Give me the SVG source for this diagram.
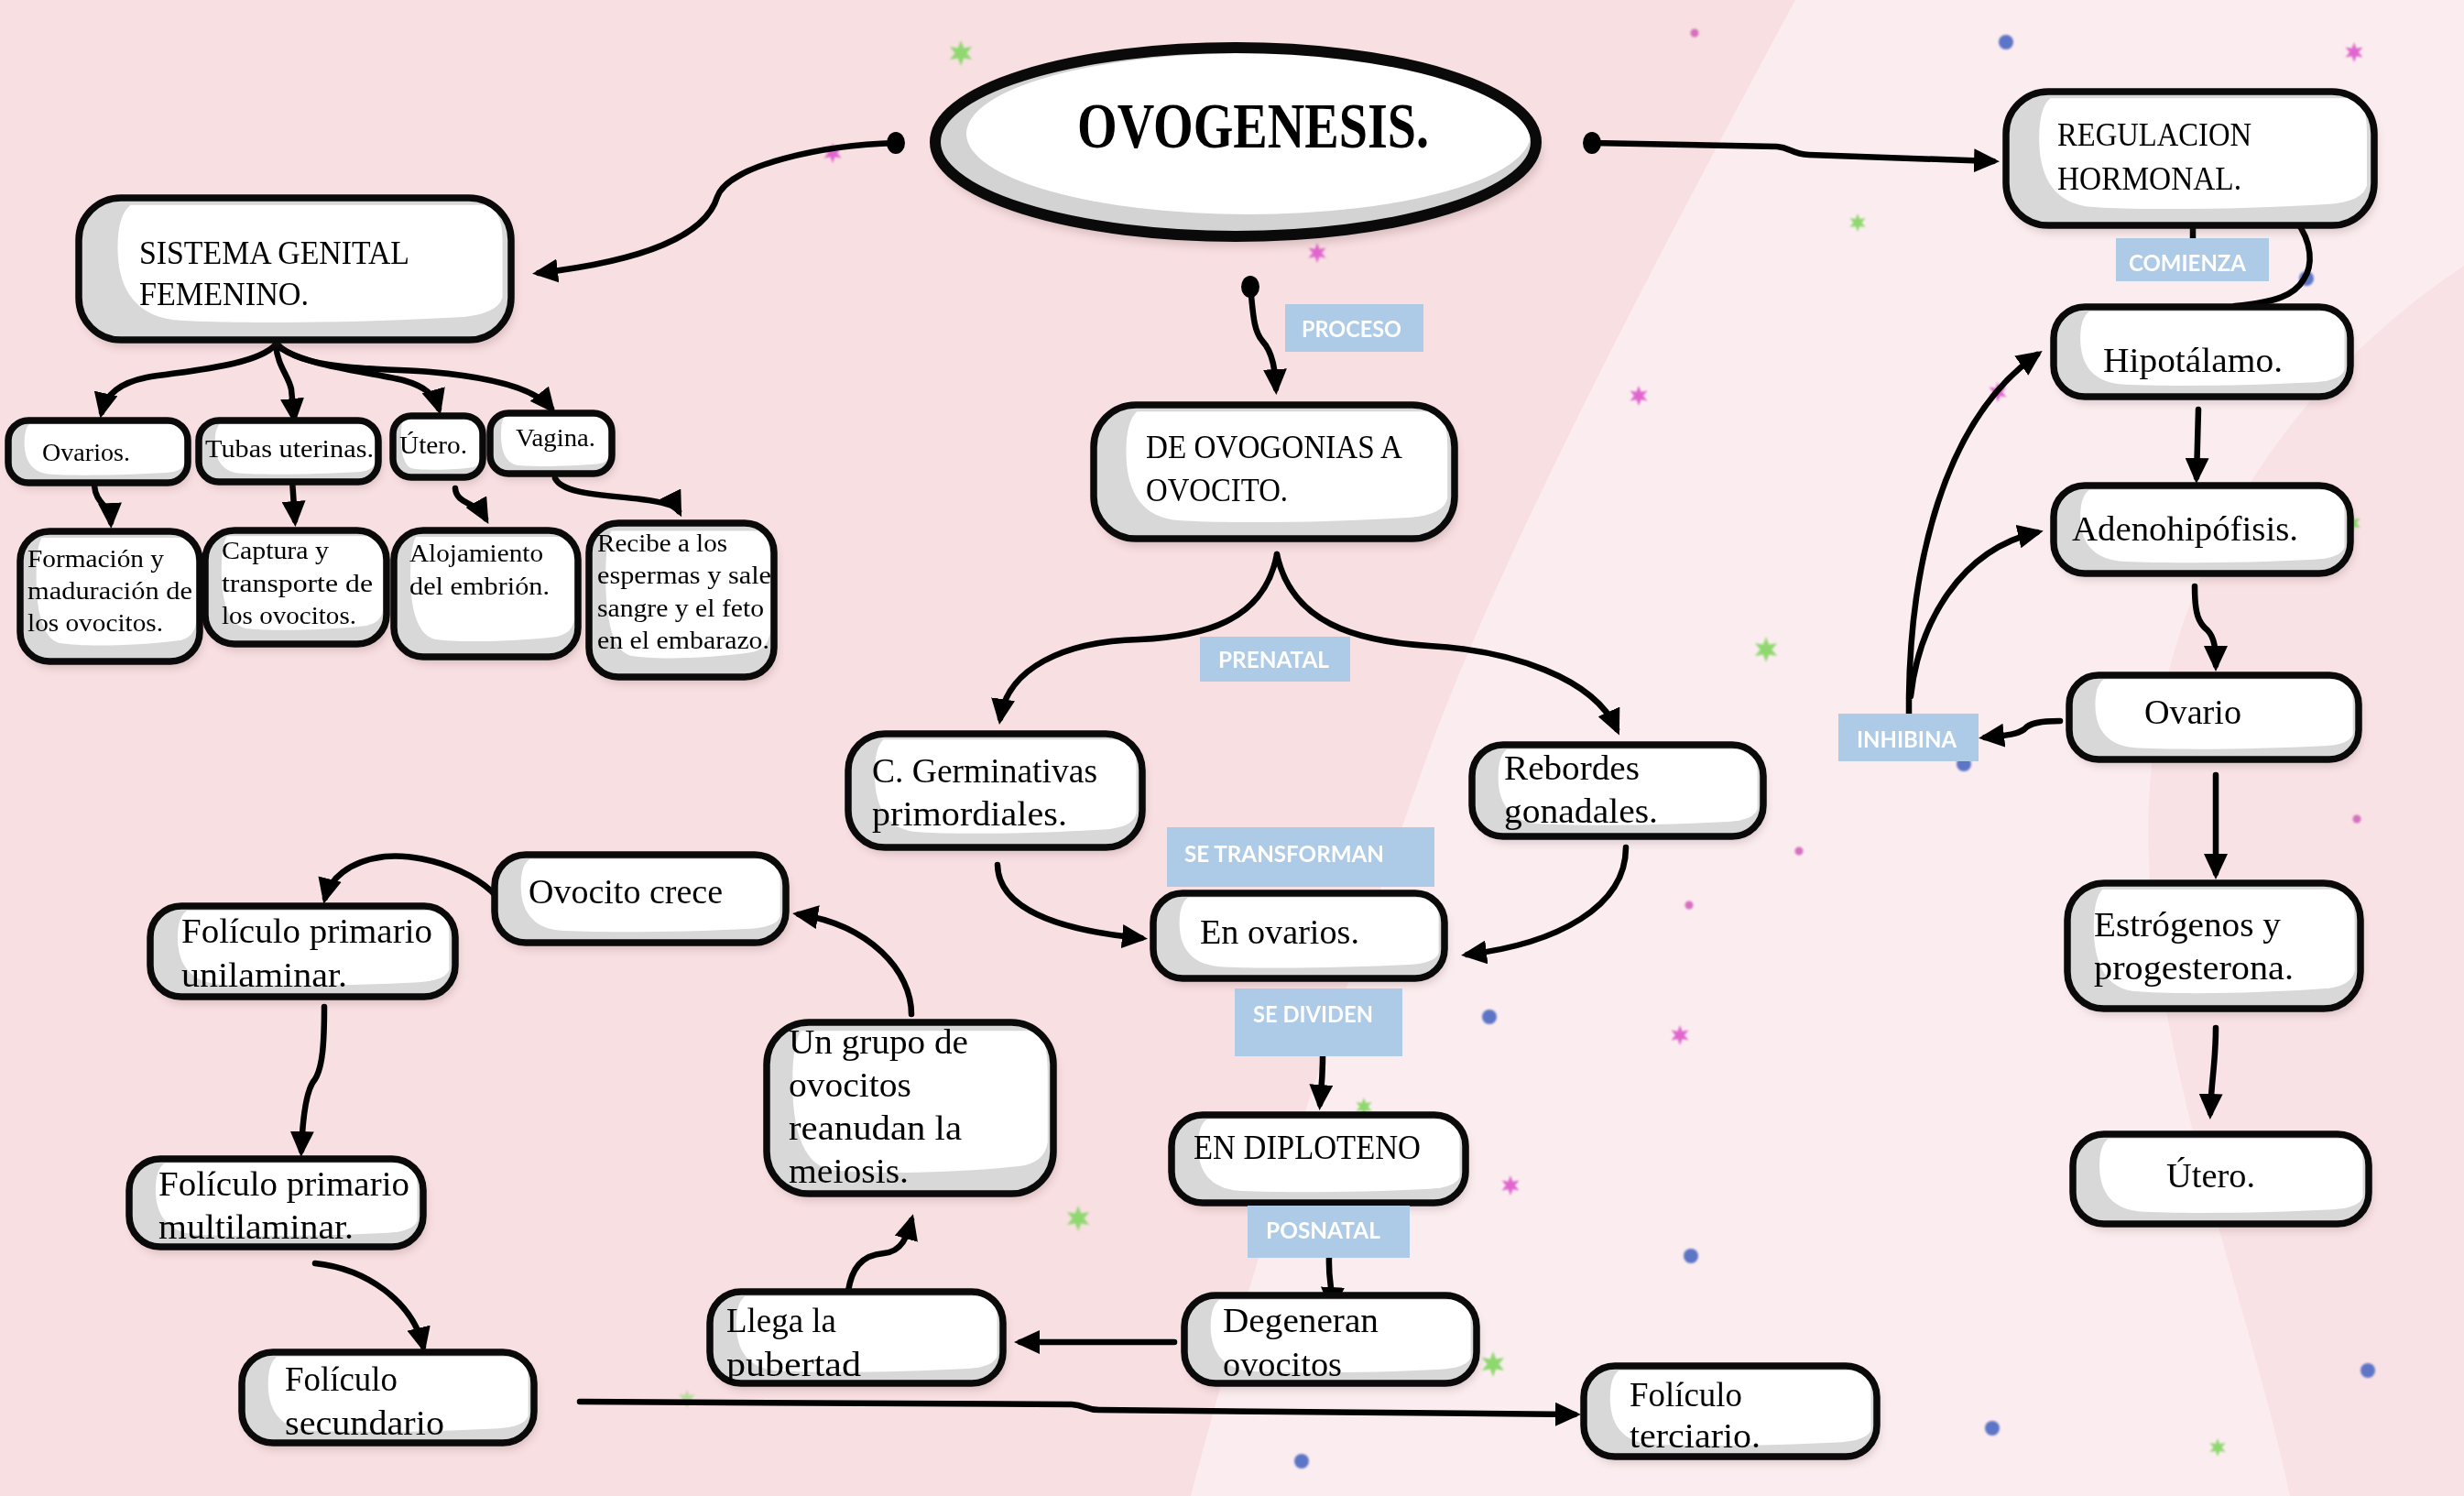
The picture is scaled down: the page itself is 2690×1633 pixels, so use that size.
<svg xmlns="http://www.w3.org/2000/svg" xmlns:xlink="http://www.w3.org/1999/xlink" width="2690" height="1633" viewBox="0 0 2690 1633">
<defs>
<style>
.base{fill:#d8d8d8}
.bd{fill:none;stroke:#0a0a0a;stroke-width:7.5}
.sh{fill:#6b4a4e;opacity:.22;filter:url(#blur)}
.t27{font-family:"Liberation Serif",serif;font-size:27px;fill:#000}
.t36{font-family:"Liberation Serif",serif;font-size:36px;fill:#000}
.t37{font-family:"Liberation Serif",serif;font-size:37px;fill:#000}
.lb rect{fill:#adcae6}
.lb text{font-family:Lato,"Open Sans",sans-serif;font-weight:700;font-size:24px;fill:#fff}
.cn path{fill:none;stroke:#000;stroke-width:6.5;stroke-linecap:round;stroke-linejoin:round}
.ar{marker-end:url(#ah)}
.gs{fill:#8fd870}
.ms{fill:#e066cf}
.bdot{fill:#5d74c6}
.pdot{fill:#d56fc0}
</style>
<filter id="blur" x="-10%" y="-20%" width="120%" height="150%"><feGaussianBlur stdDeviation="5"/></filter>
<filter id="soft" x="-50%" y="-50%" width="200%" height="200%"><feGaussianBlur stdDeviation="1.2"/></filter>
<marker id="ah" markerUnits="userSpaceOnUse" markerWidth="28" markerHeight="26" viewBox="0 0 28 26" refX="21" refY="13" orient="auto"><path d="M0,0 L28,13 L0,26 Z" fill="#000"/></marker>
<symbol id="hl" viewBox="0 0 100 100" preserveAspectRatio="none"><path d="M12,5 L93,5 Q98,5 98,30 L98,70 Q97,82 88,84 C65,88 35,89 22,86 C12,82 9,60 9,35 Q9,12 12,5 Z" fill="#fff"/></symbol>
<path id="st" d="M0,-10 L2.25,-3.9 L8.66,-5 L4.5,0 L8.66,5 L2.25,3.9 L0,10 L-2.25,3.9 L-8.66,5 L-4.5,0 L-8.66,-5 L-2.25,-3.9 Z"/>
</defs>

<g id="background">
<rect x="0" y="0" width="2690" height="1633" fill="#f8dfe1"/>
<path d="M1960,0 C1820,260 1640,600 1560,820 C1460,1100 1360,1400 1300,1633 L2690,1633 L2690,0 Z" fill="#fbedef"/>
<path d="M2690,290 C2480,430 2350,650 2345,900 C2345,1150 2450,1400 2500,1633 L2690,1633 Z" fill="#f9e2e5"/>
</g>

<g id="decor" filter="url(#soft)">
<use href="#st" class="gs" transform="translate(1049,58) scale(1.4)"/>
<use href="#st" class="gs" transform="translate(2028,243) scale(1)"/>
<use href="#st" class="gs" transform="translate(1928,709) scale(1.4)"/>
<use href="#st" class="gs" transform="translate(2568,571) scale(1)"/>
<use href="#st" class="gs" transform="translate(1177,1330) scale(1.4)"/>
<use href="#st" class="gs" transform="translate(1489,1208) scale(1)"/>
<use href="#st" class="gs" transform="translate(1630,1489) scale(1.4)"/>
<use href="#st" class="gs" transform="translate(750,1527) scale(1)" opacity="0.6"/>
<use href="#st" class="gs" transform="translate(2421,1580) scale(1)"/>
<use href="#st" class="ms" transform="translate(909,167) scale(1.1)"/>
<use href="#st" class="ms" transform="translate(1438,276) scale(1.1)"/>
<use href="#st" class="ms" transform="translate(1789,432) scale(1.1)"/>
<use href="#st" class="ms" transform="translate(2181,428) scale(1.1)"/>
<use href="#st" class="ms" transform="translate(2570,57) scale(1.1)"/>
<use href="#st" class="ms" transform="translate(1834,1130) scale(1.1)"/>
<use href="#st" class="ms" transform="translate(1649,1294) scale(1.1)"/>
<circle class="pdot" cx="1850" cy="36" r="4.5"/>
<circle class="pdot" cx="1964" cy="929" r="4.5"/>
<circle class="pdot" cx="1844" cy="988" r="4.5"/>
<circle class="pdot" cx="2573" cy="894" r="4.5"/>
<circle class="bdot" cx="2190" cy="46" r="8"/>
<circle class="bdot" cx="2518" cy="304" r="8"/>
<circle class="bdot" cx="2144" cy="834" r="8"/>
<circle class="bdot" cx="1626" cy="1110" r="8"/>
<circle class="bdot" cx="1846" cy="1371" r="8"/>
<circle class="bdot" cx="1421" cy="1595" r="8"/>
<circle class="bdot" cx="2175" cy="1559" r="8"/>
<circle class="bdot" cx="2585" cy="1496" r="8"/>
</g>

<g id="connectors" class="cn">
<path class="ar" d="M978,156 C900,158 795,180 783,215 C770,258 700,285 588,298"/>
<ellipse cx="978" cy="156" rx="10" ry="12" fill="#000"/>
<path class="ar" d="M1738,156 L1940,160 C1955,161 1955,168 1975,169 L2176,176"/>
<ellipse cx="1738" cy="156" rx="10" ry="12" fill="#000"/>
<path class="ar" d="M1365,313 C1368,340 1368,360 1378,372 C1390,385 1392,405 1393,424"/>
<ellipse cx="1365" cy="313" rx="10" ry="12" fill="#000"/>
<path class="ar" d="M301,376 C280,400 200,405 160,412 C130,418 115,432 111,450"/>
<path class="ar" d="M301,376 C303,400 315,410 318,425 L321,456"/>
<path class="ar" d="M301,376 C330,400 400,405 440,415 C465,422 475,432 479,446"/>
<path class="ar" d="M303,376 C330,405 420,402 470,406 C540,412 585,425 602,446"/>
<path class="ar" d="M103,530 C105,552 120,550 121,570"/>
<path class="ar" d="M319,524 L322,568"/>
<path class="ar" d="M497,533 C498,550 520,548 530,566"/>
<path class="ar" d="M606,522 C615,540 660,540 700,545 C725,548 738,552 741,558"/>
<path class="ar" d="M1394,605 C1380,680 1310,695 1244,698 C1160,700 1100,730 1092,784"/>
<path class="ar" d="M1394,605 C1410,680 1480,700 1560,705 C1650,710 1740,740 1765,796"/>
<path class="ar" d="M1089,944 C1090,990 1150,1015 1246,1024"/>
<path class="ar" d="M1775,925 C1775,990 1700,1030 1602,1042"/>
<path class="ar" d="M1444,1153 C1444,1180 1442,1190 1441,1205"/>
<path class="ar" d="M1451,1372 C1450,1400 1455,1405 1454,1426"/>
<path class="ar" d="M1282,1465 L1114,1465"/>
<path class="ar" d="M926,1409 C930,1385 940,1370 965,1368 C985,1366 990,1350 995,1332"/>
<path class="ar" d="M995,1107 C995,1060 950,1010 872,998"/>
<path class="ar" d="M554,1001 C545,960 470,930 420,935 C380,940 360,960 355,980"/>
<path class="ar" d="M354,1099 C354,1140 352,1165 344,1178 C333,1190 330,1230 329,1256"/>
<path class="ar" d="M344,1379 C400,1385 450,1420 462,1470"/>
<path class="ar" d="M633,1530 L1170,1533 C1185,1534 1185,1539 1200,1539 L1719,1544"/>
<path d="M2394,243 L2394,262"/>
<path d="M2506,240 C2525,265 2525,290 2515,305 C2505,322 2485,330 2440,334"/>
<path class="ar" d="M2400,447 L2398,521"/>
<path class="ar" d="M2396,640 C2396,670 2400,680 2410,688 C2418,696 2419,710 2419,726"/>
<path class="ar" d="M2249,787 C2225,787 2215,790 2210,796 C2200,803 2185,803 2167,805"/>
<path class="ar" d="M2084,790 L2084,760 C2086,620 2120,460 2224,387"/>
<path class="ar" d="M2086,760 C2095,680 2140,600 2224,581"/>
<path class="ar" d="M2419,846 L2419,953"/>
<path class="ar" d="M2419,1122 C2419,1160 2414,1180 2413,1215"/>
</g>

<g id="n-ovogenesis">
<ellipse cx="1353" cy="165" rx="330" ry="104" fill="#6b4a4e" opacity=".22" filter="url(#blur)"/>
<ellipse cx="1349" cy="155" rx="328" ry="103" fill="#d3d3d3"/>
<ellipse cx="1363" cy="146" rx="308" ry="88" fill="#fff"/>
<ellipse cx="1349" cy="155" rx="328" ry="103" fill="none" stroke="#0a0a0a" stroke-width="12"/>
<text x="1176" y="161" font-family="'Liberation Serif',serif" font-weight="700" font-size="70" textLength="384" lengthAdjust="spacingAndGlyphs">OVOGENESIS.</text>
</g>

<g id="n-sistema"><rect class="sh" x="89" y="224" width="472" height="155" rx="46"/><rect class="base" x="86" y="216" width="472" height="155" rx="46"/><use href="#hl" x="86" y="216" width="472" height="155"/><rect class="bd" x="86" y="216" width="472" height="155" rx="46"/><text class="t36" x="152" y="288" textLength="295" lengthAdjust="spacingAndGlyphs">SISTEMA GENITAL</text><text class="t36" x="152" y="333" textLength="185" lengthAdjust="spacingAndGlyphs">FEMENINO.</text></g>

<g id="n-ovarios"><rect class="sh" x="12" y="465" width="196" height="68" rx="22"/><rect class="base" x="9" y="459" width="196" height="68" rx="22"/><use href="#hl" x="9" y="459" width="196" height="68"/><rect class="bd" x="9" y="459" width="196" height="68" rx="22"/><text class="t27" x="46" y="503" textLength="96" lengthAdjust="spacingAndGlyphs">Ovarios.</text></g>

<g id="n-tubas"><rect class="sh" x="220" y="465" width="196" height="67" rx="22"/><rect class="base" x="217" y="459" width="196" height="67" rx="22"/><use href="#hl" x="217" y="459" width="196" height="67"/><rect class="bd" x="217" y="459" width="196" height="67" rx="22"/><text class="t27" x="224" y="499" textLength="184" lengthAdjust="spacingAndGlyphs">Tubas uterinas.</text></g>

<g id="n-utero1"><rect class="sh" x="432" y="460" width="98" height="67" rx="20"/><rect class="base" x="429" y="454" width="98" height="67" rx="20"/><use href="#hl" x="429" y="454" width="98" height="67"/><rect class="bd" x="429" y="454" width="98" height="67" rx="20"/><text class="t27" x="436" y="495" textLength="74" lengthAdjust="spacingAndGlyphs">Útero.</text></g>

<g id="n-vagina"><rect class="sh" x="538" y="457" width="133" height="66" rx="20"/><rect class="base" x="535" y="451" width="133" height="66" rx="20"/><use href="#hl" x="535" y="451" width="133" height="66"/><rect class="bd" x="535" y="451" width="133" height="66" rx="20"/><text class="t27" x="563" y="487" textLength="87" lengthAdjust="spacingAndGlyphs">Vagina.</text></g>

<g id="n-formacion"><rect class="sh" x="25" y="587" width="196" height="142" rx="32"/><rect class="base" x="22" y="580" width="196" height="142" rx="32"/><use href="#hl" x="22" y="580" width="196" height="142"/><rect class="bd" x="22" y="580" width="196" height="142" rx="32"/><text class="t27" x="30" y="619" textLength="149" lengthAdjust="spacingAndGlyphs">Formación y</text><text class="t27" x="30" y="654" textLength="180" lengthAdjust="spacingAndGlyphs">maduración de</text><text class="t27" x="30" y="689" textLength="148" lengthAdjust="spacingAndGlyphs">los ovocitos.</text></g>

<g id="n-captura"><rect class="sh" x="227" y="586" width="198" height="124" rx="32"/><rect class="base" x="224" y="579" width="198" height="124" rx="32"/><use href="#hl" x="224" y="579" width="198" height="124"/><rect class="bd" x="224" y="579" width="198" height="124" rx="32"/><text class="t27" x="242" y="610" textLength="117" lengthAdjust="spacingAndGlyphs">Captura y</text><text class="t27" x="242" y="646" textLength="165" lengthAdjust="spacingAndGlyphs">transporte de</text><text class="t27" x="242" y="681" textLength="147" lengthAdjust="spacingAndGlyphs">los ovocitos.</text></g>

<g id="n-alojamiento"><rect class="sh" x="433" y="586" width="201" height="138" rx="32"/><rect class="base" x="430" y="579" width="201" height="138" rx="32"/><use href="#hl" x="430" y="579" width="201" height="138"/><rect class="bd" x="430" y="579" width="201" height="138" rx="32"/><text class="t27" x="447" y="613" textLength="146" lengthAdjust="spacingAndGlyphs">Alojamiento</text><text class="t27" x="447" y="649" textLength="153" lengthAdjust="spacingAndGlyphs">del embrión.</text></g>

<g id="n-recibe"><rect class="sh" x="646" y="578" width="202" height="168" rx="32"/><rect class="base" x="643" y="571" width="202" height="168" rx="32"/><use href="#hl" x="643" y="571" width="202" height="168"/><rect class="bd" x="643" y="571" width="202" height="168" rx="32"/><text class="t27" x="652" y="602" textLength="142" lengthAdjust="spacingAndGlyphs">Recibe a los</text><text class="t27" x="652" y="637" textLength="190" lengthAdjust="spacingAndGlyphs">espermas y sale</text><text class="t27" x="652" y="673" textLength="182" lengthAdjust="spacingAndGlyphs">sangre y el feto</text><text class="t27" x="652" y="708" textLength="188" lengthAdjust="spacingAndGlyphs">en el embarazo.</text></g>

<g id="n-regulacion"><rect class="sh" x="2193" y="108" width="402" height="146" rx="46"/><rect class="base" x="2190" y="100" width="402" height="146" rx="46"/><use href="#hl" x="2190" y="100" width="402" height="146"/><rect class="bd" x="2190" y="100" width="402" height="146" rx="46"/><text class="t36" x="2246" y="159" textLength="212" lengthAdjust="spacingAndGlyphs">REGULACION</text><text class="t36" x="2246" y="207" textLength="201" lengthAdjust="spacingAndGlyphs">HORMONAL.</text></g>

<g id="n-hipotalamo"><rect class="sh" x="2245" y="342" width="324" height="98" rx="34"/><rect class="base" x="2242" y="335" width="324" height="98" rx="34"/><use href="#hl" x="2242" y="335" width="324" height="98"/><rect class="bd" x="2242" y="335" width="324" height="98" rx="34"/><text class="t37" x="2296" y="406" textLength="196" lengthAdjust="spacingAndGlyphs">Hipotálamo.</text></g>

<g id="n-adenohipofisis"><rect class="sh" x="2245" y="537" width="324" height="96" rx="34"/><rect class="base" x="2242" y="530" width="324" height="96" rx="34"/><use href="#hl" x="2242" y="530" width="324" height="96"/><rect class="bd" x="2242" y="530" width="324" height="96" rx="34"/><text class="t37" x="2262" y="590" textLength="247" lengthAdjust="spacingAndGlyphs">Adenohipófisis.</text></g>

<g id="n-ovario"><rect class="sh" x="2262" y="744" width="316" height="92" rx="32"/><rect class="base" x="2259" y="737" width="316" height="92" rx="32"/><use href="#hl" x="2259" y="737" width="316" height="92"/><rect class="bd" x="2259" y="737" width="316" height="92" rx="32"/><text class="t37" x="2341" y="790" textLength="106" lengthAdjust="spacingAndGlyphs">Ovario</text></g>

<g id="n-estrogenos"><rect class="sh" x="2260" y="971" width="320" height="137" rx="40"/><rect class="base" x="2257" y="964" width="320" height="137" rx="40"/><use href="#hl" x="2257" y="964" width="320" height="137"/><rect class="bd" x="2257" y="964" width="320" height="137" rx="40"/><text class="t37" x="2286" y="1022" textLength="204" lengthAdjust="spacingAndGlyphs">Estrógenos y</text><text class="t37" x="2286" y="1069" textLength="218" lengthAdjust="spacingAndGlyphs">progesterona.</text></g>

<g id="n-utero2"><rect class="sh" x="2266" y="1245" width="323" height="98" rx="34"/><rect class="base" x="2263" y="1238" width="323" height="98" rx="34"/><use href="#hl" x="2263" y="1238" width="323" height="98"/><rect class="bd" x="2263" y="1238" width="323" height="98" rx="34"/><text class="t37" x="2365" y="1296" textLength="97" lengthAdjust="spacingAndGlyphs">Útero.</text></g>

<g id="n-deovogonias"><rect class="sh" x="1197" y="450" width="394" height="146" rx="46"/><rect class="base" x="1194" y="442" width="394" height="146" rx="46"/><use href="#hl" x="1194" y="442" width="394" height="146"/><rect class="bd" x="1194" y="442" width="394" height="146" rx="46"/><text class="t36" x="1251" y="500" textLength="280" lengthAdjust="spacingAndGlyphs">DE OVOGONIAS A</text><text class="t36" x="1251" y="547" textLength="155" lengthAdjust="spacingAndGlyphs">OVOCITO.</text></g>

<g id="n-cgerminativas"><rect class="sh" x="929" y="808" width="321" height="124" rx="40"/><rect class="base" x="926" y="801" width="321" height="124" rx="40"/><use href="#hl" x="926" y="801" width="321" height="124"/><rect class="bd" x="926" y="801" width="321" height="124" rx="40"/><text class="t37" x="952" y="854" textLength="246" lengthAdjust="spacingAndGlyphs">C. Germinativas</text><text class="t37" x="952" y="901" textLength="213" lengthAdjust="spacingAndGlyphs">primordiales.</text></g>

<g id="n-rebordes"><rect class="sh" x="1610" y="820" width="318" height="100" rx="34"/><rect class="base" x="1607" y="813" width="318" height="100" rx="34"/><use href="#hl" x="1607" y="813" width="318" height="100"/><rect class="bd" x="1607" y="813" width="318" height="100" rx="34"/><text class="t37" x="1642" y="851" textLength="148" lengthAdjust="spacingAndGlyphs">Rebordes</text><text class="t37" x="1642" y="898" textLength="168" lengthAdjust="spacingAndGlyphs">gonadales.</text></g>

<g id="n-enovarios"><rect class="sh" x="1262" y="982" width="318" height="93" rx="32"/><rect class="base" x="1259" y="975" width="318" height="93" rx="32"/><use href="#hl" x="1259" y="975" width="318" height="93"/><rect class="bd" x="1259" y="975" width="318" height="93" rx="32"/><text class="t37" x="1310" y="1030" textLength="174" lengthAdjust="spacingAndGlyphs">En ovarios.</text></g>

<g id="n-diploteno"><rect class="sh" x="1282" y="1224" width="321" height="96" rx="34"/><rect class="base" x="1279" y="1217" width="321" height="96" rx="34"/><use href="#hl" x="1279" y="1217" width="321" height="96"/><rect class="bd" x="1279" y="1217" width="321" height="96" rx="34"/><text class="t37" x="1303" y="1265" textLength="248" lengthAdjust="spacingAndGlyphs">EN DIPLOTENO</text></g>

<g id="n-degeneran"><rect class="sh" x="1296" y="1421" width="319" height="96" rx="34"/><rect class="base" x="1293" y="1414" width="319" height="96" rx="34"/><use href="#hl" x="1293" y="1414" width="319" height="96"/><rect class="bd" x="1293" y="1414" width="319" height="96" rx="34"/><text class="t37" x="1335" y="1454" textLength="170" lengthAdjust="spacingAndGlyphs">Degeneran</text><text class="t37" x="1335" y="1502" textLength="130" lengthAdjust="spacingAndGlyphs">ovocitos</text></g>

<g id="n-llega"><rect class="sh" x="778" y="1417" width="320" height="100" rx="34"/><rect class="base" x="775" y="1410" width="320" height="100" rx="34"/><use href="#hl" x="775" y="1410" width="320" height="100"/><rect class="bd" x="775" y="1410" width="320" height="100" rx="34"/><text class="t37" x="793" y="1454" textLength="120" lengthAdjust="spacingAndGlyphs">Llega la</text><text class="t37" x="793" y="1502" textLength="147" lengthAdjust="spacingAndGlyphs">pubertad</text></g>

<g id="n-ungrupo"><rect class="sh" x="840" y="1123" width="313" height="187" rx="46"/><rect class="base" x="837" y="1116" width="313" height="187" rx="46"/><use href="#hl" x="837" y="1116" width="313" height="187"/><rect class="bd" x="837" y="1116" width="313" height="187" rx="46"/><text class="t37" x="861" y="1150" textLength="196" lengthAdjust="spacingAndGlyphs">Un grupo de</text><text class="t37" x="861" y="1197" textLength="134" lengthAdjust="spacingAndGlyphs">ovocitos</text><text class="t37" x="861" y="1244" textLength="189" lengthAdjust="spacingAndGlyphs">reanudan la</text><text class="t37" x="861" y="1291" textLength="131" lengthAdjust="spacingAndGlyphs">meiosis.</text></g>

<g id="n-ovocitocrece"><rect class="sh" x="543" y="940" width="318" height="96" rx="34"/><rect class="base" x="540" y="933" width="318" height="96" rx="34"/><use href="#hl" x="540" y="933" width="318" height="96"/><rect class="bd" x="540" y="933" width="318" height="96" rx="34"/><text class="t37" x="577" y="986" textLength="212" lengthAdjust="spacingAndGlyphs">Ovocito crece</text></g>

<g id="n-unilaminar"><rect class="sh" x="167" y="996" width="333" height="99" rx="34"/><rect class="base" x="164" y="989" width="333" height="99" rx="34"/><use href="#hl" x="164" y="989" width="333" height="99"/><rect class="bd" x="164" y="989" width="333" height="99" rx="34"/><text class="t37" x="198" y="1029" textLength="274" lengthAdjust="spacingAndGlyphs">Folículo primario</text><text class="t37" x="198" y="1077" textLength="181" lengthAdjust="spacingAndGlyphs">unilaminar.</text></g>

<g id="n-multilaminar"><rect class="sh" x="144" y="1272" width="321" height="96" rx="34"/><rect class="base" x="141" y="1265" width="321" height="96" rx="34"/><use href="#hl" x="141" y="1265" width="321" height="96"/><rect class="bd" x="141" y="1265" width="321" height="96" rx="34"/><text class="t37" x="173" y="1305" textLength="274" lengthAdjust="spacingAndGlyphs">Folículo primario</text><text class="t37" x="173" y="1352" textLength="213" lengthAdjust="spacingAndGlyphs">multilaminar.</text></g>

<g id="n-secundario"><rect class="sh" x="267" y="1483" width="319" height="99" rx="34"/><rect class="base" x="264" y="1476" width="319" height="99" rx="34"/><use href="#hl" x="264" y="1476" width="319" height="99"/><rect class="bd" x="264" y="1476" width="319" height="99" rx="34"/><text class="t37" x="311" y="1518" textLength="123" lengthAdjust="spacingAndGlyphs">Folículo</text><text class="t37" x="311" y="1566" textLength="174" lengthAdjust="spacingAndGlyphs">secundario</text></g>

<g id="n-terciario"><rect class="sh" x="1732" y="1498" width="320" height="99" rx="34"/><rect class="base" x="1729" y="1491" width="320" height="99" rx="34"/><use href="#hl" x="1729" y="1491" width="320" height="99"/><rect class="bd" x="1729" y="1491" width="320" height="99" rx="34"/><text class="t37" x="1779" y="1535" textLength="123" lengthAdjust="spacingAndGlyphs">Folículo</text><text class="t37" x="1779" y="1580" textLength="143" lengthAdjust="spacingAndGlyphs">terciario.</text></g>

<g id="l-proceso" class="lb"><rect x="1403" y="332" width="151" height="52"/><text x="1421" y="368" textLength="109" lengthAdjust="spacingAndGlyphs">PROCESO</text></g>
<g id="l-prenatal" class="lb"><rect x="1310" y="695" width="164" height="49"/><text x="1330" y="729" textLength="121" lengthAdjust="spacingAndGlyphs">PRENATAL</text></g>
<g id="l-setransforman" class="lb"><rect x="1274" y="903" width="292" height="65"/><text x="1293" y="941" textLength="218" lengthAdjust="spacingAndGlyphs">SE TRANSFORMAN</text></g>
<g id="l-sedividen" class="lb"><rect x="1348" y="1079" width="183" height="74"/><text x="1368" y="1116" textLength="131" lengthAdjust="spacingAndGlyphs">SE DIVIDEN</text></g>
<g id="l-posnatal" class="lb"><rect x="1362" y="1316" width="177" height="57"/><text x="1382" y="1352" textLength="125" lengthAdjust="spacingAndGlyphs">POSNATAL</text></g>
<g id="l-comienza" class="lb"><rect x="2310" y="260" width="167" height="47"/><text x="2324" y="296" textLength="128" lengthAdjust="spacingAndGlyphs">COMIENZA</text></g>
<g id="l-inhibina" class="lb"><rect x="2007" y="779" width="153" height="52"/><text x="2027" y="816" textLength="109" lengthAdjust="spacingAndGlyphs">INHIBINA</text></g>
</svg>
